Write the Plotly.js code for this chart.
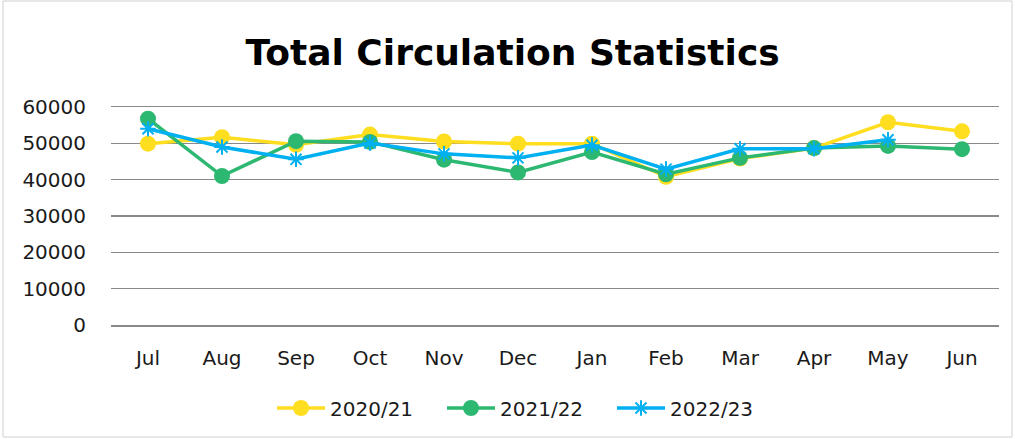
<!DOCTYPE html>
<html><head><meta charset="utf-8">
<script src="https://cdn.plot.ly/plotly-3.0.1.min.js"></script>
<style>html,body{margin:0;padding:0;background:#fff}#c{width:1015px;height:439px}</style>
</head><body><div id="c"></div>
<script>
const months = ["Jul","Aug","Sep","Oct","Nov","Dec","Jan","Feb","Mar","Apr","May","Jun"];
const y2020 = [49900,51700,49600,52400,50500,49900,49900,40800,45800,48700,55800,53300];
const y2021 = [56800,41000,50600,50400,45500,42000,47600,41500,46000,48700,49300,48400];
const y2022 = [54000,49000,45600,50100,47100,46000,49500,42900,48500,48500,51000,null];
const seriesNames = ["2020/21","2021/22","2022/23"];

const W=1015,H=439,L=111,R=16,T=107,B=114;
const pw=W-L-R, ph=H-T-B;
const font='"DejaVu Sans", sans-serif';

const traces=[
 {x:months,y:y2020,name:seriesNames[0],type:'scatter',mode:'lines+markers',
  line:{color:'#FFDD1F',width:3.5},marker:{symbol:'circle',size:16,color:'#FFDD1F'}},
 {x:months,y:y2021,name:seriesNames[1],type:'scatter',mode:'lines+markers',
  line:{color:'#2DB871',width:3.5},marker:{symbol:'circle',size:16,color:'#2DB871'}},
 {x:months,y:y2022,name:seriesNames[2],type:'scatter',mode:'lines+markers',
  line:{color:'#00B0F0',width:3.5},marker:{symbol:'asterisk-open',size:13,color:'#00B0F0',line:{color:'#00B0F0',width:2}}}
];
const layout={
 width:W,height:H,margin:{l:L,r:R,t:T,b:B},
 paper_bgcolor:'#fff',plot_bgcolor:'#fff',
 title:{text:'<b>Total Circulation Statistics</b>',x:0.505,xanchor:'center',y:1-52/H,yanchor:'middle',
  font:{family:font,size:36,color:'#000'}},
 xaxis:{type:'category',range:[-0.5,11.5],showgrid:false,zeroline:false,
  showline:true,mirror:true,linecolor:'#898989',linewidth:1.5,
  ticks:'outside',ticklen:14,tickcolor:'rgba(0,0,0,0)',
  tickfont:{family:font,size:20,color:'#1a1a1a'}},
 yaxis:{range:[0,60000],dtick:10000,tickformat:'d',showgrid:true,gridcolor:'#898989',gridwidth:1.5,
  zeroline:false,showline:false,ticks:'outside',ticklen:20,tickcolor:'rgba(0,0,0,0)',
  tickfont:{family:font,size:20,color:'#1a1a1a'},fixedrange:true},
 showlegend:true,
 legend:{orientation:'h',x:(272-L)/pw,xanchor:'left',y:-83/ph,yanchor:'middle',
  font:{family:font,size:20,color:'#1a1a1a'},itemwidth:48,entrywidth:107,entrywidthmode:'pixels'},
 shapes:[{type:'rect',xref:'paper',yref:'paper',x0:(3-L)/pw,x1:(1012-L)/pw,
  y0:(H-B-437)/ph,y1:(H-B-1)/ph,line:{color:'#d0d0d0',width:1}}]
};
Plotly.newPlot('c',traces,layout,{displayModeBar:false,staticPlot:true});
</script></body></html>
